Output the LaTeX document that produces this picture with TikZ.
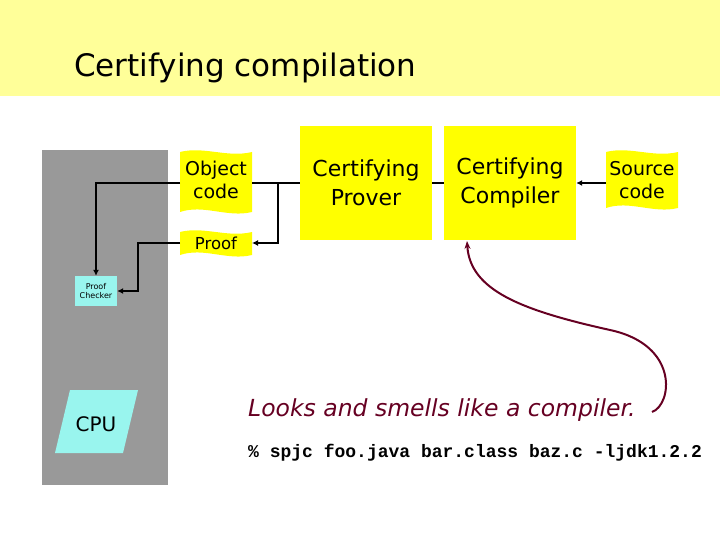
\documentclass[tikz,border=0pt]{standalone}
\usepackage{fontspec}
\setmainfont{DejaVu Sans}
\newfontfamily\monof{Liberation Mono}
\usetikzlibrary{arrows.meta}
\definecolor{hdr}{HTML}{FFFF99}
\definecolor{ylw}{HTML}{FFFF00}
\definecolor{gry}{HTML}{999999}
\definecolor{cyn}{HTML}{99F5EE}
\definecolor{drd}{HTML}{660022}
\tikzset{
  box/.style={fill=ylw,draw=none,minimum width=132pt,minimum height=114pt,align=center,font=\fontsize{22}{29}\selectfont,inner sep=0pt},
  doctext/.style={align=center,inner sep=0pt},
  con/.style={line width=2pt},
  arr/.style={con,-{Latex[length=6pt,width=6pt]}},
}
\newcommand{\docshape}[4]{% x1 y1 x2 y2 (y down)
  \fill[ylw] (#1,#2) .. controls ({#1+0.33*(#3-#1)},{#2-6}) and ({#1+0.66*(#3-#1)},{#2+6}) .. (#3,#2)
     -- (#3,#4) .. controls ({#1+0.66*(#3-#1)},{#4+6}) and ({#1+0.33*(#3-#1)},{#4-8}) .. (#1,#4) -- cycle;}
\begin{document}
\begin{tikzpicture}[x=1pt,y=-1pt]
\useasboundingbox (0,0) rectangle (720,540);
\fill[hdr] (0,0) rectangle (720,96);
\node[anchor=base west,font=\fontsize{31}{36}\selectfont,inner sep=0pt] (title) at (74,77) {Certifying compilation};
\fill[gry] (42,150) rectangle (168,485);
% docs
\docshape{180}{152}{252}{212}
\docshape{180}{232}{252}{255}
\docshape{606}{152}{678}{208}
\node[doctext,font=\fontsize{19}{23}\selectfont] (obj) at (216,180) {Object\\code};
\node[doctext,font=\fontsize{16.5}{19}\selectfont] (proof) at (216,243) {Proof};
\node[doctext,font=\fontsize{19}{23}\selectfont] (src) at (642,180) {Source\\code};
\coordinate (objL) at (180,183);
\coordinate (objR) at (252,183);
\coordinate (proofL) at (180,243);
\coordinate (proofR) at (252,243);
\coordinate (srcL) at (606,183);
\node[box] (prover) at (366,183) {Certifying\\Prover};
\node[box] (compiler) at (510,183) {Certifying\\Compiler};
\node[fill=cyn,minimum width=42pt,minimum height=30pt,inner sep=0pt,align=center,font=\fontsize{8}{9}\selectfont] (checker) at (96,291) {Proof\\Checker};
\fill[cyn] (70,390) -- (138,390) -- (123,453) -- (55,453) -- cycle;
\node[font=\fontsize{20}{24}\selectfont] (cpu) at (96,424) {CPU};
% connectors
\draw[arr] (objL) -| (checker.north);
\draw[arr] (proofL) -- (138,243) |- (checker.east);
\draw[con] (prover.west) -- (objR);
\draw[arr] (278,183) |- (proofR);
\draw[con] (prover.east) -- (compiler.west);
\draw[arr] (srcL) -- (compiler.east);
\node[anchor=base west,inner sep=0pt,font=\fontsize{23.5}{28}\selectfont\itshape,text=drd] (looks) at (248,416) {Looks and smells like a compiler.};
\node[anchor=base west,inner sep=0pt,font=\monof\bfseries\fontsize{18}{20}\selectfont] (cmd) at (248,457) {\% spjc foo.java bar.class baz.c -ljdk1.2.2};
\draw[drd,line width=2pt,-{Stealth[length=8pt,width=6pt]}] (652,412) .. controls (672,405) and (680,345) .. (610,330) .. controls (520,310) and (470,290) .. (467,241);
\end{tikzpicture}
\end{document}
